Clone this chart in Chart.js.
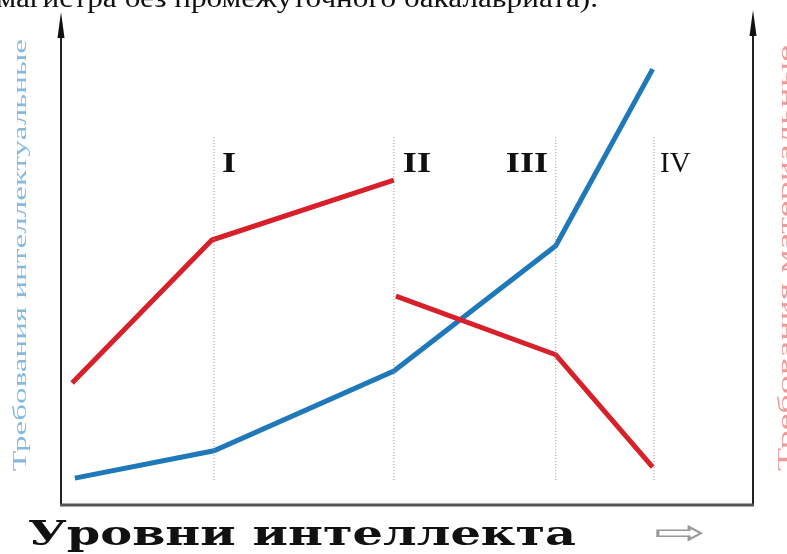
<!DOCTYPE html>
<html><head><meta charset="utf-8">
<script src="https://cdn.jsdelivr.net/npm/chart.js@4.4.1/dist/chart.umd.min.js"></script>
<style>html,body{margin:0;padding:0;background:#fff;}canvas{display:block;}</style>
</head><body>
<canvas id="c" width="787" height="554"></canvas>
<script>
// Data (x: intellect level scale 0..100, y: requirement 0..100)
const intellectX = [2.0, 22.1, 48.1, 71.5, 85.5];
const intellectY = [5.6, 11.3, 27.9, 54.0, 90.8];
const materialAX = [1.6, 21.8, 48.1];
const materialAY = [25.4, 55.2, 67.7];
const materialBX = [48.4, 71.5, 85.5];
const materialBY = [43.5, 31.3, 7.9];
const levelBounds = [22.1, 48.1, 71.5, 85.7];
const levelLabels = ['I', 'II', 'III', 'IV'];
const boundTop = 77.1, boundBottom = 5.2;
const topCaption = '(магистра без промежуточного бакалавриата).';
const leftTitle = 'Требования интеллектуальные';
const rightTitle = 'Требования материальные';
const bottomTitle = 'Уровни интеллекта';

const pts = (xs, ys) => xs.map((x, i) => ({x, y: ys[i]}));
const datasets = [];
levelBounds.forEach(b => datasets.push({
  data: [{x: b, y: boundBottom}, {x: b, y: boundTop}],
  borderColor: '#9a9a9a', borderWidth: 1, borderDash: [1, 2], pointRadius: 0
}));
datasets.push({data: pts(materialAX, materialAY), borderColor: '#d8202a', borderWidth: 5, pointRadius: 0, borderCapStyle: 'butt'});
datasets.push({data: pts(materialBX, materialBY), borderColor: '#d8202a', borderWidth: 5, pointRadius: 0, borderCapStyle: 'butt'});
datasets.push({data: pts(intellectX, intellectY), borderColor: '#1f78b9', borderWidth: 5, pointRadius: 0, borderCapStyle: 'butt'});

function fitText(ctx, text, x, y, width) {
  const w = ctx.measureText(text).width;
  ctx.save();
  ctx.translate(x, y);
  ctx.scale(width / w, 1);
  ctx.fillText(text, 0, 0);
  ctx.restore();
}

const deco = {
  id: 'deco',
  afterDraw(chart) {
    const ctx = chart.ctx, a = chart.chartArea, xs = chart.scales.x;
    ctx.save();
    // axes
    ctx.strokeStyle = '#222'; ctx.lineWidth = 2;
    ctx.beginPath(); ctx.moveTo(a.left, 20); ctx.lineTo(a.left, a.bottom); ctx.stroke();
    ctx.beginPath(); ctx.moveTo(a.right, 18); ctx.lineTo(a.right, a.bottom); ctx.stroke();
    ctx.strokeStyle = '#555'; ctx.lineWidth = 3;
    ctx.beginPath(); ctx.moveTo(a.left - 1, a.bottom); ctx.lineTo(a.right + 1, a.bottom); ctx.stroke();
    // arrowheads
    ctx.fillStyle = '#111';
    [[a.left, 12], [a.right, 10]].forEach(([x, t]) => {
      ctx.beginPath(); ctx.moveTo(x, t); ctx.lineTo(x - 3.5, t + 26); ctx.lineTo(x + 3.5, t + 26); ctx.closePath(); ctx.fill();
    });
    // level labels
    ctx.textBaseline = 'alphabetic'; ctx.textAlign = 'left'; ctx.fillStyle = '#111';
    const offs = [8, 9, -50, 6];
    levelLabels.forEach((lab, i) => {
      ctx.font = (i === 3 ? '' : 'bold ') + '29px "Liberation Serif"';
      const x = xs.getPixelForValue(levelBounds[i]) + offs[i];
      const wScale = i === 3 ? 1.0 : 1.25;
      fitText(ctx, lab, x, 172, ctx.measureText(lab).width * wScale);
    });
    // top caption (cut off at the top edge)
    ctx.font = '27px "Liberation Serif"'; ctx.fillStyle = '#111';
    fitText(ctx, topCaption, -14, 7, 612);
    // left title
    ctx.font = '19px "Liberation Serif"'; ctx.fillStyle = '#86b9e0';
    ctx.save(); ctx.translate(26, 471); ctx.rotate(-Math.PI / 2);
    fitText(ctx, leftTitle, 0, 0, 432); ctx.restore();
    // right title
    ctx.fillStyle = '#ec9a9a';
    ctx.save(); ctx.translate(791, 471); ctx.rotate(-Math.PI / 2);
    fitText(ctx, rightTitle, 0, 0, 426); ctx.restore();
    // bottom title
    ctx.font = 'bold 34px "DejaVu Serif"'; ctx.fillStyle = '#111';
    fitText(ctx, bottomTitle, 28, 545, 548);
    ctx.font = '34px "DejaVu Sans"'; ctx.fillStyle = '#999';
    fitText(ctx, '⇨', 654, 544, 52);
    ctx.restore();
  }
};

new Chart(document.getElementById('c'), {
  type: 'line',
  data: {datasets},
  options: {
    responsive: false, animation: false,
    layout: {padding: {left: 61, right: 34, top: 25, bottom: 49}},
    plugins: {legend: {display: false}, tooltip: {enabled: false}},
    scales: {
      x: {type: 'linear', min: 0, max: 100, display: false},
      y: {type: 'linear', min: 0, max: 100, display: false}
    }
  },
  plugins: [deco]
});
</script>
</body></html>
